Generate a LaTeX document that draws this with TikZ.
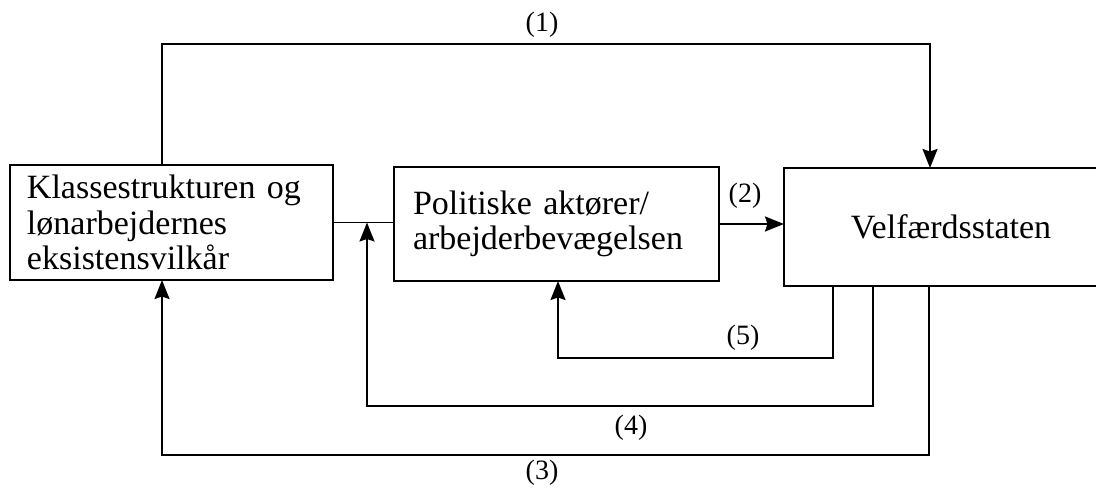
\documentclass[tikz,border=0pt]{standalone}
\usepackage{fontspec}
\setmainfont{Liberation Serif}
\usetikzlibrary{arrows.meta}
\begin{document}
\begin{tikzpicture}[x=1bp,y=-1bp,
  box/.style={draw, line width=1.8bp, outer sep=0pt, inner ysep=0pt},
  wire/.style={line width=1.8bp},
  arr/.style={wire, -{Stealth[length=19bp,width=15bp,inset=2.5bp]}},
  lbl/.style={font=\fontsize{28bp}{30bp}\selectfont, inner sep=0pt},
  txt/.style={font=\fontsize{34bp}{35.5bp}\selectfont}
]
\clip (0,0) rectangle (1096,489);

% the three boxes
\node[box, txt, align=left, minimum width=323bp, minimum height=115bp,
      text width=289bp, inner xsep=17bp] (A) at (171.5,222.5)
  {Klassestrukturen og\\lønarbejdernes\\eksistensvilkår};
\node[box, txt, align=left, minimum width=325bp, minimum height=114bp,
      text width=287bp, inner xsep=19bp] (B) at (556.5,224)
  {Politiske aktører/\\arbejderbevægelsen};
\node[box, txt, align=center, minimum width=334bp, minimum height=118bp] (C) at (951,227)
  {Velfærdsstaten};

% bend points of the connectors
\coordinate (p1) at (162,44);
\coordinate (p2) at (930,44);
\coordinate (q5a) at (833,358);
\coordinate (q5b) at (558,358);
\coordinate (q4a) at (873,406);
\coordinate (q4b) at (367,406);
\coordinate (q3a) at (929,455);
\coordinate (q3b) at (162,455);

% (1)
\draw[arr] (p1 |- A.north) -- (p1) -- (p2) -- (p2 |- C.north);
% (2)
\draw[arr] (B.east) -- (B.east -| C.west);
% link between the first two boxes
\draw[wire] (A.east) -- (A.east -| B.west);
% (5)
\draw[arr] (q5a |- C.south) -- (q5a) -- (q5b) -- (q5b |- B.south);
% (4)
\draw[arr] (q4a |- C.south) -- (q4a) -- (q4b) -- (q4b |- A.east);
% (3)
\draw[arr] (q3a |- C.south) -- (q3a) -- (q3b) -- (q3b |- A.south);

% labels
\node[lbl] (l1) at (542,25) {(1)};
\node[lbl] (l2) at (745,196) {(2)};
\node[lbl] (l5) at (743,338) {(5)};
\node[lbl] (l4) at (631,428) {(4)};
\node[lbl] (l3) at (542,473) {(3)};
\end{tikzpicture}
\end{document}
